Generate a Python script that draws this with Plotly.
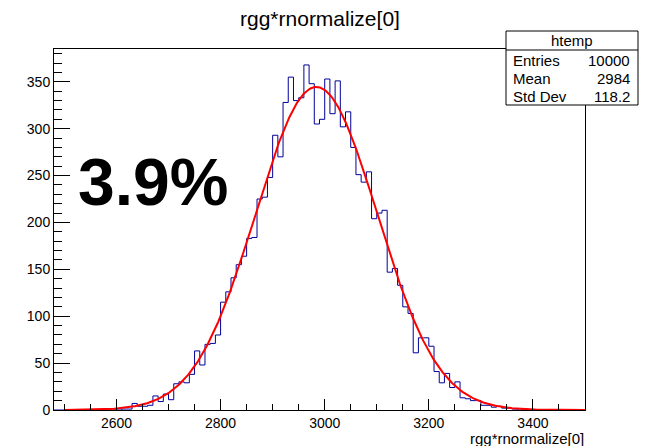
import numpy as np
import plotly.graph_objects as go

# ---------------- data ----------------
bin_low = 2480.0
bin_width = 10.0
bin_counts = [
    0, 0, 0, 0, 0, 0, 0, 0, 0, 0, 0, 0, 0,
    1, 1,
    7, 4, 4, 5,
    15, 9, 17, 11, 28,
    30, 29, 38, 63, 48,
    70, 71, 80, 115, 126,
    141, 155, 164, 183, 184,
    225, 227, 248, 293, 270,
    328, 355, 330, 333, 368,
    348, 305, 310, 353, 316,
    351, 302, 318, 280, 251,
    243, 254, 204, 210, 213,
    147, 151, 133, 110, 103,
    61, 77, 77, 68, 41,
    29, 39, 24, 30, 13,
    12, 10, 10, 5, 5,
    3, 4, 2, 2, 1, 0, 1,
    0, 0, 0, 0, 0, 0, 0, 0, 0, 0, 0,
]
# Gaussian fit parameters (constant, mean, sigma)
fit_constant = 344.5
fit_mean = 2984.0
fit_sigma = 117.0
fit_range = [2500.0, 3500.0]

x_range = [2480, 3500]
y_range = [0, 385]
x_tick_values = [2600, 2800, 3000, 3200, 3400]
y_tick_values = [0, 50, 100, 150, 200, 250, 300, 350]

stats_title = "htemp"
stats_labels = ["Entries", "Mean", "Std Dev"]
stats_values = ["10000", "2984", "118.2"]
big_label = "3.9%"
title_text = "rgg*rnormalize[0]"

# ---------------- build ----------------
n = len(bin_counts)
edges = bin_low + bin_width * np.arange(n + 1)
step_x = [edges[0]] + list(edges[:-1]) + [edges[-1], edges[-1]]
step_y = [0] + list(bin_counts) + [bin_counts[-1], 0]

fx = np.linspace(fit_range[0], fit_range[1], 600)
fy = fit_constant * np.exp(-0.5 * ((fx - fit_mean) / fit_sigma) ** 2)

FONT = "Liberation Sans, Arial, Helvetica, sans-serif"

fig = go.Figure()
fig.add_trace(go.Scatter(x=step_x, y=step_y, mode="lines", line_shape="hv",
                         line=dict(color="#000099", width=1), hoverinfo="skip"))
fig.add_trace(go.Scatter(x=fx, y=fy, mode="lines",
                         line=dict(color="#ff0000", width=2), hoverinfo="skip"))

W, H = 656, 446
L, R, T, B = 54, 585, 49, 410
pw, ph = R - L, B - T


def px(xp):
    return (xp - L) / pw


def py(yp):
    return (B - yp) / ph


axis_common = dict(
    showline=True, linecolor="black", linewidth=1, mirror=True,
    ticks="inside", tickcolor="black", tickwidth=1,
    showgrid=False, zeroline=False,
    tickfont=dict(family=FONT, size=14, color="black"),
)
fig.update_xaxes(range=x_range, tickmode="array", tickvals=x_tick_values,
                 ticklen=11,
                 minor=dict(dtick=50, tick0=2500, ticks="inside", ticklen=6,
                            tickcolor="black", tickwidth=1, showgrid=False),
                 **axis_common)
fig.update_yaxes(range=y_range, tickmode="array", tickvals=y_tick_values,
                 ticklen=16,
                 minor=dict(dtick=10, tick0=0, ticks="inside", ticklen=8,
                            tickcolor="black", tickwidth=1, showgrid=False),
                 **axis_common)

shapes = []
# stats box
bx0, bx1, by0, by1 = 506, 638, 31, 105
shapes.append(dict(type="rect", xref="paper", yref="paper",
                   x0=px(bx0), x1=px(bx1), y0=py(by1), y1=py(by0),
                   fillcolor="white", line=dict(color="black", width=1),
                   layer="above"))
shapes.append(dict(type="line", xref="paper", yref="paper",
                   x0=px(bx0), x1=px(bx1), y0=py(50), y1=py(50),
                   line=dict(color="black", width=1), layer="above"))

annotations = []
annotations.append(dict(text=stats_title, xref="paper", yref="paper",
                        x=px(572), y=py(40.5), xanchor="center", yanchor="middle",
                        showarrow=False, font=dict(family=FONT, size=15, color="black")))
rows_y = [60, 78.3, 96.7]
for lab, val, yy in zip(stats_labels, stats_values, rows_y):
    annotations.append(dict(text=lab, xref="paper", yref="paper",
                            x=px(511), y=py(yy), xanchor="left", yanchor="middle",
                            showarrow=False, font=dict(family=FONT, size=15, color="black")))
    annotations.append(dict(text=val, xref="paper", yref="paper",
                            x=px(632), y=py(yy), xanchor="right", yanchor="middle",
                            showarrow=False, font=dict(family=FONT, size=15, color="black")))
# big label
annotations.append(dict(text="<b>%s</b>" % big_label, xref="paper", yref="paper",
                        x=px(76), y=py(182), xanchor="left", yanchor="middle",
                        showarrow=False, font=dict(family=FONT, size=66, color="black")))
# axis title
annotations.append(dict(text=title_text, xref="paper", yref="paper",
                        x=1.0, y=py(439), xanchor="right", yanchor="middle",
                        showarrow=False, borderpad=0,
                        font=dict(family=FONT, size=15, color="black")))
# main title
annotations.append(dict(text=title_text, xref="paper", yref="paper",
                        x=0.5, y=py(19), xanchor="center", yanchor="middle",
                        showarrow=False, font=dict(family=FONT, size=21, color="black")))

fig.update_layout(
    width=W, height=H,
    margin=dict(l=L, r=W - R, t=T, b=H - B, pad=0),
    paper_bgcolor="white", plot_bgcolor="white",
    showlegend=False,
    shapes=shapes, annotations=annotations,
)

fig.write_html("out.html", config={"displayModeBar": False},
               post_script="document.body.style.margin='0';document.body.style.padding='0';")
